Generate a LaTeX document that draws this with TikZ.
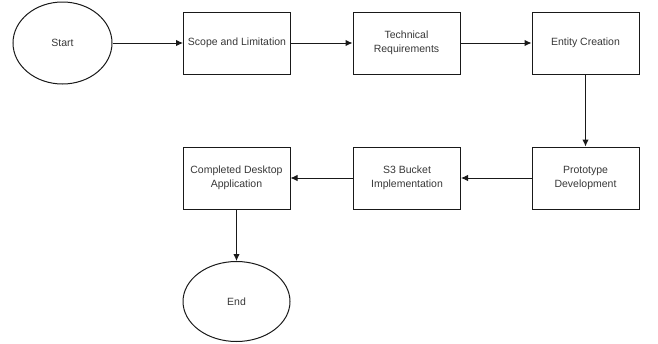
\documentclass[tikz,border=0pt]{standalone}
\usepackage{fontspec}
\setmainfont{Liberation Sans}
\usepackage{xcolor}
\usepackage{tikz}
\usetikzlibrary{shapes, arrows, arrows.meta, positioning, calc}

\definecolor{lineGray}{RGB}{25,25,25}
\definecolor{textGray}{RGB}{55,55,55}

\tikzset{
    process/.style={draw=lineGray, line width=1pt, rectangle, minimum width=107pt, minimum height=62pt,
        align=center, text=textGray, font=\fontsize{10.5}{14}\selectfont},
    terminal/.style={draw=lineGray, line width=1pt, ellipse, inner sep=0pt,
        text=textGray, font=\fontsize{10.5}{14}\selectfont},
    flow/.style={-{Latex[length=7pt, width=6.5pt]}, draw=lineGray, line width=1pt}
}

\begin{document}
\begin{tikzpicture}[x=1pt, y=-1pt]
            \useasboundingbox (0,0) rectangle (658,343);

            % first row, left to right
            \node[terminal, minimum width=99pt, minimum height=82pt] (start) at (62.5,43) {Start};
            \node[process] (scope) at (237,43) {Scope and Limitation};
            \node[process] (tech) at (406.5,43) {Technical\\Requirements};
            \node[process] (entity) at (585.5,43) {Entity Creation};

            % second row, right to left
            \node[process] (proto) at (585.5,178) {Prototype\\Development};
            \node[process] (bucket) at (407,178) {S3 Bucket\\Implementation};
            \node[process] (desktop) at (236.5,178) {Completed Desktop\\Application};

            \node[terminal, minimum width=107pt, minimum height=80pt] (end) at (236.5,301.5) {End};

            \draw[flow] (start) -- (scope);
            \draw[flow] (scope) -- (tech);
            \draw[flow] (tech) -- (entity);
            \draw[flow] (entity) -- (proto);% down to the second row
            \draw[flow] (proto) -- (bucket);
            \draw[flow] (bucket) -- (desktop);
            \draw[flow] (desktop) -- (end);
        \end{tikzpicture}
\end{document}
